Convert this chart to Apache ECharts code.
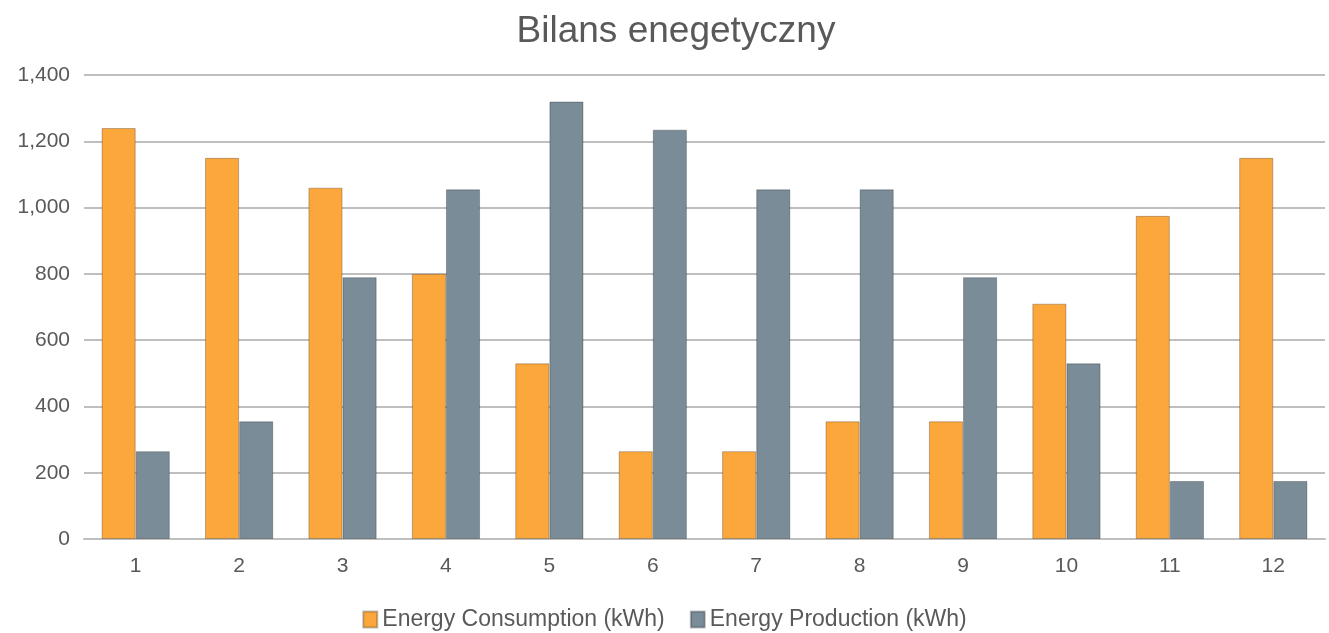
<!DOCTYPE html>
<html><head><meta charset="utf-8">
<script src="https://cdn.jsdelivr.net/npm/echarts@6/dist/echarts.min.js"></script>
<style>html,body{margin:0;padding:0;background:#fff}#c{width:1329px;height:633px}</style>
</head><body><div id="c"></div>
<script>
var categories = ['1','2','3','4','5','6','7','8','9','10','11','12'];
var consumption = [1240, 1150, 1060, 800, 530, 265, 265, 355, 355, 710, 975, 1150];
var production = [265, 355, 790, 1055, 1320, 1235, 1055, 1055, 790, 530, 175, 175];
var seriesNames = ['Energy Consumption (kWh)', 'Energy Production (kWh)'];

var chart = echarts.init(document.getElementById('c'));
var font = 'Liberation Sans, Arial, sans-serif';
chart.setOption({
  animation: false,
  title: { text: 'Bilans enegetyczny', left: 671, textAlign: 'center', top: 8,
    textStyle: { fontFamily: font, fontSize: 37, fontWeight: 'normal', color: '#595959' } },
  legend: { top: 603, left: 'center', itemWidth: 14, itemHeight: 16, itemGap: 25,
    icon: 'rect',
    textStyle: { fontFamily: font, fontSize: 23, color: '#595959' },
    data: seriesNames },
  grid: { left: 84, right: 4, top: 75, bottom: 94, containLabel: false },
  xAxis: { type: 'category', data: categories,
    axisLine: { lineStyle: { color: '#BFBFBF', width: 2 } },
    axisTick: { show: false },
    axisLabel: { fontFamily: font, fontSize: 21, color: '#595959', margin: 17 } },
  yAxis: { type: 'value', min: 0, max: 1400, interval: 200,
    axisLine: { show: false }, axisTick: { show: false },
    splitLine: { lineStyle: { color: '#BFBFBF', width: 2 } },
    axisLabel: { fontFamily: font, fontSize: 21, color: '#595959', margin: 14,
      formatter: function (v) { return v.toLocaleString('en-US'); } } },
  series: [
    { name: seriesNames[0], type: 'bar', data: consumption, barGap: '0%', barCategoryGap: '34%',
      itemStyle: { color: '#FCA73B', borderColor: 'rgba(0,0,0,0.25)', borderWidth: 1 } },
    { name: seriesNames[1], type: 'bar', data: production,
      itemStyle: { color: '#798C98', borderColor: 'rgba(0,0,0,0.25)', borderWidth: 1 } }
  ]
});
</script></body></html>
